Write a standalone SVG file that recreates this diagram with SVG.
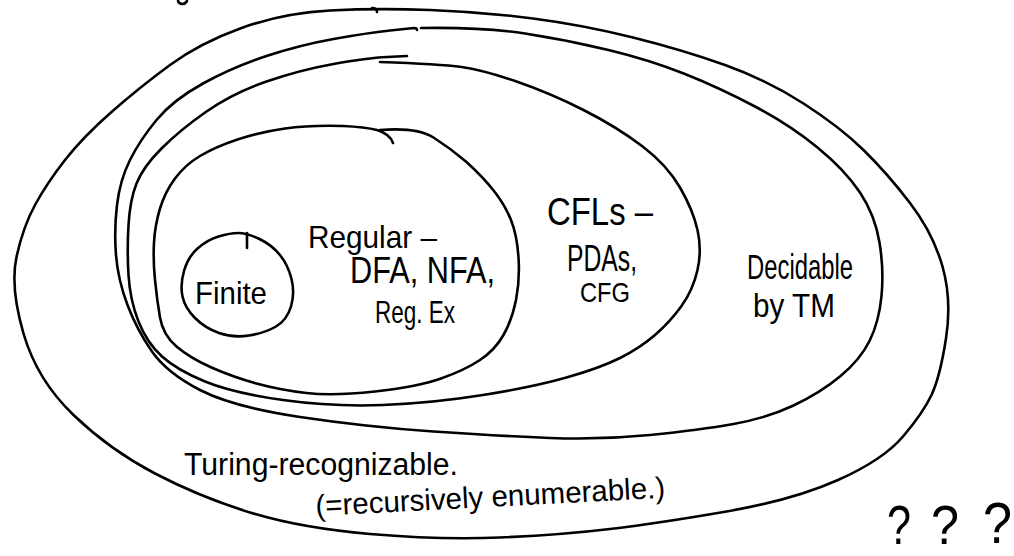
<svg xmlns="http://www.w3.org/2000/svg" width="1014" height="556" viewBox="0 0 1014 556">
<style>
.s{fill:none;stroke:#000;stroke-width:2.6;stroke-linecap:round;stroke-linejoin:round}
.t{font-family:"Liberation Sans",Arial,sans-serif;fill:#000}
</style>
<rect width="1014" height="556" fill="#fff"/>
<path class="s" d="M178,0 C178,4 184,6 187,1"/>
<g id="turing-recognizable">
<path class="s" d="M430,10 Q483,12 533,18.5 Q583,25 633,37.5 Q683,50 725,65 Q767,80 803.5,103.5 Q840,127 863.5,150 Q887,173 910,203 Q933,233 942.5,266.5 Q952,300 946,338.5 Q940,377 931.5,395 Q923,413 903,436.5 Q883,460 838,480 Q793,500 726.5,511.5 Q660,523 610,529 Q560,535 500,537.5 Q440,540 370,534 Q300,528 250,512.5 Q200,497 155,473.5 Q110,450 73.5,415 Q37,380 23.5,333.5 Q10,287 16.5,257 Q23,227 35,205 Q47,183 65,160 Q83,137 111.5,112 Q140,87 170,65 Q200,43 241.5,28 Q283,13 330,10.5 Q377,8 430,10"/>
<path class="s" d="M372,8 Q377,8 377,12"/>
<text class="t" x="184" y="475" font-size="31" textLength="274" lengthAdjust="spacingAndGlyphs">Turing-recognizable.</text>
<text class="t" x="316" y="516" font-size="30" textLength="350" lengthAdjust="spacingAndGlyphs" transform="rotate(-3 316 516)">(=recursively enumerable.)</text>
</g>
<g id="decidable">
<path class="s" d="M421,28 Q483,27 525,33.5 Q567,40 608.5,50 Q650,60 685,74 Q720,88 755,106.5 Q790,125 817.5,147.5 Q845,170 860,192.5 Q875,215 879.5,242.5 Q884,270 881.5,296 Q879,322 869.5,341 Q860,360 840,376.5 Q820,393 793.5,405.5 Q767,418 733.5,424 Q700,430 650,435 Q600,440 550,438 Q500,436 433.5,431.5 Q367,427 300,417 Q233,407 200,390 Q167,373 152,351.5 Q137,330 127.5,305 Q118,280 116,255 Q114,230 117,205 Q120,180 130,160 Q140,140 156.5,120 Q173,100 203,83.5 Q233,67 266.5,56 Q300,45 333.5,39 Q367,33 390,30.5 L414,28 Q417,28 417,30"/>
<text class="t" x="747" y="279" font-size="35" textLength="106" lengthAdjust="spacingAndGlyphs">Decidable</text>
<text class="t" x="753" y="317" font-size="33" textLength="82" lengthAdjust="spacingAndGlyphs">by TM</text>
</g>
<g id="cfl">
<path class="s" d="M380,62 Q440,64 461.5,67 Q483,70 516.5,81.5 Q550,93 583.5,110 Q617,127 642,146 Q667,165 680,187.5 Q693,210 697.5,230 Q702,250 697.5,270 Q693,290 681.5,306 Q670,322 655,335 Q640,348 620,358 Q600,368 566.5,377.5 Q533,387 483,395 Q433,403 383,405 Q333,407 283,400 Q233,393 205,381.5 Q177,370 162,356.5 Q147,343 138.5,321.5 Q130,300 128.5,275 Q127,250 128.5,225 Q130,200 136.5,183.5 Q143,167 161.5,148.5 Q180,130 206.5,111.5 Q233,93 266.5,81.5 Q300,70 333.5,64 Q367,58 387,57 L407,56"/>
<text class="t" x="547" y="225" font-size="38" textLength="106" lengthAdjust="spacingAndGlyphs">CFLs –</text>
<text class="t" x="567" y="271" font-size="36" textLength="70" lengthAdjust="spacingAndGlyphs">PDAs,</text>
<text class="t" x="580" y="302" font-size="28" textLength="50" lengthAdjust="spacingAndGlyphs">CFG</text>
</g>
<g id="regular">
<path class="s" d="M380,130 Q417,127 433.5,137.5 Q450,148 466.5,162 Q483,177 494,191 Q505,205 511,220 Q517,235 518.5,257.5 Q520,280 516,300 Q512,320 503.5,335 Q495,350 480,360 Q465,370 441,378.5 Q417,387 375,391.5 Q333,396 306.5,393 Q280,390 256.5,383.5 Q233,377 211.5,367.5 Q190,358 176.5,346.5 Q163,335 160,317.5 Q157,300 155,280 Q153,260 154,242.5 Q155,225 160,208.5 Q165,192 175,178.5 Q185,165 200,156 Q215,147 237.5,139.5 Q260,132 285,128.5 Q310,125 343,126 Q365,127 377,130 Q390,134 393,143"/>
<text class="t" x="308" y="248" font-size="32" textLength="129" lengthAdjust="spacingAndGlyphs">Regular –</text>
<text class="t" x="350" y="283" font-size="36" textLength="145" lengthAdjust="spacingAndGlyphs">DFA, NFA,</text>
<text class="t" x="375" y="323" font-size="32" textLength="80" lengthAdjust="spacingAndGlyphs">Reg. Ex</text>
</g>
<g id="finite">
<path class="s" d="M259.5,239 Q272,245 280,255 Q288,265 291.5,279 Q295,293 291,306.5 Q287,320 276,326.5 Q265,333 249,335.5 Q233,338 219,333 Q205,328 195,318 Q185,308 182.5,296.5 Q180,285 184,271 Q188,257 197.5,248.5 Q207,240 218.5,236.5 Q230,233 238.5,233 Q247,233 259.5,239 Z"/>
<path class="s" d="M247,233 L247,248"/>
<text class="t" x="195" y="304" font-size="32" textLength="72" lengthAdjust="spacingAndGlyphs">Finite</text>
</g>
<g id="question-marks">
<text class="t" x="887" y="544" font-size="56" textLength="24" lengthAdjust="spacingAndGlyphs">?</text>
<text class="t" x="931" y="544" font-size="56" textLength="28" lengthAdjust="spacingAndGlyphs">?</text>
<text class="t" x="983" y="543" font-size="58" textLength="29" lengthAdjust="spacingAndGlyphs">?</text>
</g>
</svg>
